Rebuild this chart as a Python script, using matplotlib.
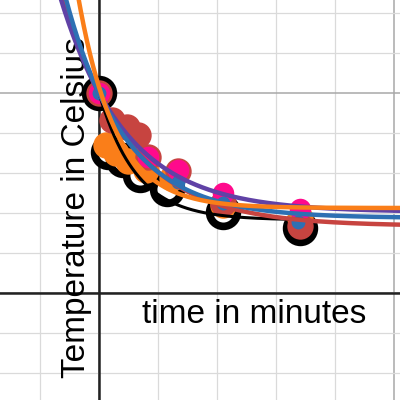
import numpy as np
import matplotlib
matplotlib.use("Agg")
from matplotlib import pyplot as plt

plt.rcParams['font.family'] = ['Liberation Sans', 'DejaVu Sans']

# measured points (time in minutes, temperature in Celsius)
black_t = [0, 0.3, 0.8, 1.4, 2.3, 4.2, 6.8]
black_T = [100, 70.5, 66.5, 59, 52, 40.5, 32.5]

orange_t = [0.24, 0.58, 0.98, 1.6, 2.47, 4.2, 6.8]
orange_T = [74, 70, 66, 61.5, 57.5, 44, 37.5]

red_t = [0, 0.44, 0.95, 1.32, 1.66, 2.68, 4.2, 6.8]
red_T = [100, 86.5, 83, 79, 68, 61, 45, 33.5]

pink_t = [0, 1.66, 2.68, 4.2, 6.8]
pink_T = [100, 68, 61.5, 50, 42]

blue_t = [0, 2.68, 4.2, 6.75]
blue_T = [100, 55.5, 45, 35.5]

# cooling curves T = c + A * exp(-k t): (c, A, k, colour, width, t range)
curves = [
    (36.5, 63.5, 0.80, '#000000', 2.2, (0, 6.8)),
    (33.5, 66.5, 0.45, '#c74440', 3.2, (-3.4, 10.3)),
    (40.5, 59.5, 0.45, '#6042a6', 3.2, (-3.4, 10.3)),
    (37.5, 62.5, 0.50, '#2d70b3', 3.2, (-3.4, 10.3)),
    (42.5, 60.5, 0.79, '#fa7e19', 3.2, (-3.4, 10.3)),
]

fig = plt.figure(figsize=(4, 4), dpi=100)
ax = fig.add_axes([0, 0, 1, 1])
ax.set_xlim(-3.356, 10.203)
ax.set_ylim(-53.5, 146.5)
ax.axis('off')

# grid like the graphing calculator
for x in np.arange(-2, 11, 2):
    major = x % 10 == 0
    ax.axvline(x, color='#a8a8a8' if major else '#dadada', lw=1.1 if major else 0.9, zorder=0)
for y in np.arange(-40, 141, 20):
    major = y % 100 == 0
    ax.axhline(y, color='#a8a8a8' if major else '#dadada', lw=1.1 if major else 0.9, zorder=0)
ax.axvline(0, color='#222222', lw=1.8, zorder=1)
ax.axhline(0, color='#222222', lw=1.8, zorder=1)

# points
ax.plot(black_t, black_T, 'o', ms=20, mfc='white', mec='black', mew=5.5, ls='none', zorder=2)
ax.plot(orange_t, orange_T, 'o', ms=19, color='#fa7e19', mew=0, ls='none', zorder=3)
ax.plot(red_t, red_T, 'o', ms=19, color='#c74440', mew=0, ls='none', zorder=4)
ax.plot(pink_t, pink_T, 'o', ms=15.5, color='#ff0a8c', mew=0, ls='none', zorder=5)
ax.plot(blue_t, blue_T, 'o', ms=10, color='#2d70b3', mew=0, ls='none', zorder=6)

# fitted curves
for i, (c, A, k, col, lw, (t0, t1)) in enumerate(curves):
    t = np.linspace(t0, t1, 400)
    ax.plot(t, c + A * np.exp(-k * t), color=col, lw=lw, zorder=7 + i,
            solid_capstyle='round')

ax.text(-0.475, -42.5, 'Temperature in Celsius', rotation=90, rotation_mode='anchor',
        ha='left', va='baseline', fontsize=24, color='black', zorder=6.5)
ax.text(1.46, -15, 'time in minutes', ha='left', va='baseline', fontsize=24,
        color='black', zorder=20)

fig.savefig('out.png', dpi=100)
